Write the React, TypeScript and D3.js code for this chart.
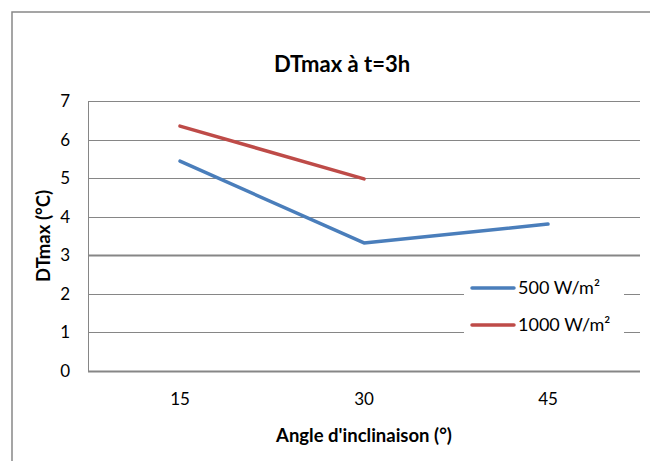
import React from "react";
import * as d3 from "d3";

const categories = ["15", "30", "45"];
const series500 = [5.44, 3.32, 3.81];
const series1000 = [6.35, 4.98];
const yTicks = [0, 1, 2, 3, 4, 5, 6, 7];
const seriesNames = ["500 W/m²", "1000 W/m²"];
const colors = ["#4a7ebb", "#be4b48"];

export default function App() {
  const W = 650, H = 461;
  const left = 88, right = 640, top = 101, bottom = 371;
  const x = d3.scaleBand<string>().domain(categories).range([left, right]);
  const y = d3.scaleLinear().domain([0, 7]).range([bottom, top]);
  const cx = (c: string) => (x(c) as number) + x.bandwidth() / 2;
  const line = d3
    .line<[string, number]>()
    .x((d) => cx(d[0]))
    .y((d) => y(d[1]));
  const d500 = line(categories.map((c, i) => [c, series500[i]] as [string, number]));
  const d1000 = line(series1000.map((v, i) => [categories[i], v] as [string, number]));
  const font = "Lato, 'Open Sans', sans-serif";
  return (
    <svg
      width={W}
      height={H}
      style={{ position: "absolute", left: 0, top: 0, fontFamily: font }}
    >
      <rect x={0} y={0} width={W} height={H} fill="#fff" />
      <rect x={12} y={12} width={W} height={H} fill="none" stroke="#888" strokeWidth={1.5} />
      <text x={342} y={72} textAnchor="middle" fontSize={22} fontWeight="bold" fill="#000">
        DTmax à t=3h
      </text>
      {yTicks.map((t) => (
        <g key={t}>
          <line
            x1={left}
            x2={right}
            y1={Math.round(y(t)) + 0.5}
            y2={Math.round(y(t)) + 0.5}
            stroke="#868686"
            strokeWidth={t === 3 || t === 0 ? 2 : 1}
          />
          <text x={70} y={y(t) + 6} textAnchor="end" fontSize={17} fill="#000">
            {t}
          </text>
        </g>
      ))}
      <line x1={left + 0.5} x2={left + 0.5} y1={top} y2={bottom} stroke="#868686" />
      {categories.map((c) => (
        <text key={c} x={cx(c)} y={405} textAnchor="middle" fontSize={17} fill="#000">
          {c}
        </text>
      ))}
      <text x={364} y={442} textAnchor="middle" fontSize={18.5} fontWeight="bold" fill="#000">
        Angle d'inclinaison (°)
      </text>
      <text
        transform={`translate(50,${236}) rotate(-90)`}
        textAnchor="middle"
        fontSize={18.5}
        fontWeight="bold"
        fill="#000"
      >
        DTmax (°C)
      </text>
      <path d={d500 || ""} fill="none" stroke={colors[0]} strokeWidth={3.5} strokeLinejoin="round" strokeLinecap="round" />
      <path d={d1000 || ""} fill="none" stroke={colors[1]} strokeWidth={3.5} strokeLinejoin="round" strokeLinecap="round" />
      <rect x={464} y={272} width={160} height={70} fill="#fff" />
      {seriesNames.map((n, i) => (
        <g key={n}>
          <line x1={472} x2={514} y1={288 + i * 37} y2={288 + i * 37} stroke={colors[i]} strokeWidth={3.5} strokeLinecap="round" />
          <text x={518} y={294 + i * 37} fontSize={18} fill="#000">
            {n}
          </text>
        </g>
      ))}
    </svg>
  );
}
